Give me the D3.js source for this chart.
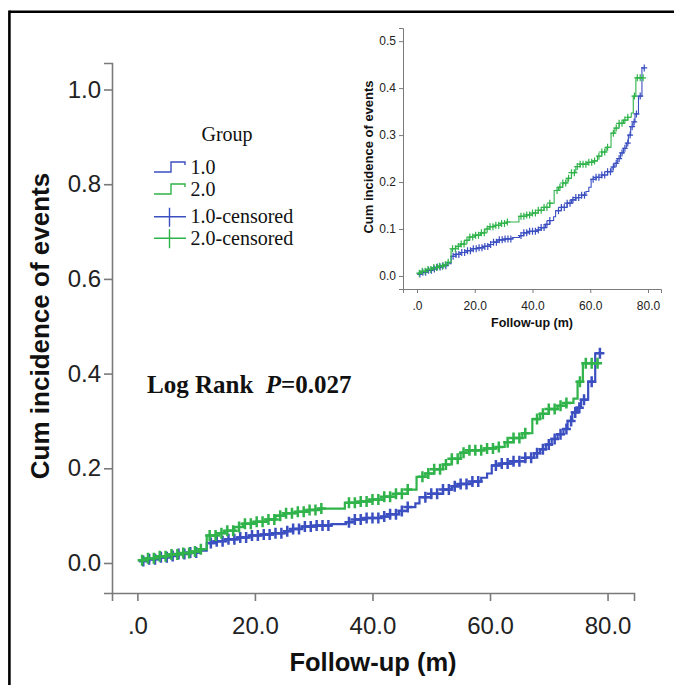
<!DOCTYPE html>
<html>
<head>
<meta charset="utf-8">
<script src="https://cdn.jsdelivr.net/npm/d3@7"></script>
<style>
  body { margin: 0; background: #fff; }
  svg { display: block; }
</style>
</head>
<body>
<script>
const w = 674;
const h = 685;

const blue = "#3b4fc1";
const green = "#2fb34a";
const axisColor = "#7a7a7a";
const tickText = "#222";

// group 1.0 : step times (months) and cumulative incidence after each step
const g1Times = [0.3, 2, 4, 5.5, 7, 9, 10.5, 11.8, 13.5, 15, 17, 19, 21, 23, 25, 26.5, 28, 30.5, 33, 35.5, 37, 39, 41.5, 43, 44.5, 46, 47.3, 48, 50, 52, 53.5, 55, 57, 58.5, 59.5, 60.3, 62, 64, 66, 67.5, 68.5, 69.5, 70.5, 71.5, 72.5, 73.2, 74, 74.8, 75.5, 76.7, 77.9];
const g1Values = [0.004, 0.008, 0.012, 0.015, 0.019, 0.022, 0.026, 0.042, 0.046, 0.050, 0.054, 0.058, 0.060, 0.063, 0.067, 0.072, 0.077, 0.079, 0.082, 0.086, 0.092, 0.095, 0.098, 0.103, 0.110, 0.118, 0.126, 0.139, 0.146, 0.155, 0.162, 0.167, 0.172, 0.180, 0.189, 0.206, 0.210, 0.215, 0.222, 0.232, 0.240, 0.250, 0.262, 0.272, 0.283, 0.300, 0.318, 0.328, 0.345, 0.383, 0.443];
const g1Censor = [1, 2, 3, 4, 5, 6, 7, 8, 9, 10, 12.5, 13.5, 14.5, 15.5, 16.5, 17.5, 18.5, 19.5, 20.5, 21.5, 22.5, 23.5, 24.5, 25.5, 26.5, 27.5, 28.5, 29.5, 30.5, 31.5, 32.5, 36, 37, 38, 39, 40, 41, 42, 43, 44, 45, 46, 49, 50, 51, 52, 53, 54, 55, 56, 57, 58, 61, 62, 63, 64, 65, 66, 67, 68, 69, 70, 71, 72, 73, 73.8, 74.5, 75.2, 76, 77.3, 78.7];
const g1End = 78.7;

// group 2.0
const g2Times = [0.3, 1.5, 3, 5, 7, 9, 10.5, 11.8, 13.5, 15, 16.5, 18, 20, 22, 23.5, 25, 27, 29, 31, 35.3, 38, 40, 42, 44, 46, 47.5, 49, 50.5, 52, 53.5, 55, 56.5, 59, 61, 62.5, 64, 65.5, 67.2, 68.5, 70, 71.5, 73, 74.2, 74.9, 75.8];
const g2Values = [0.006, 0.010, 0.014, 0.018, 0.021, 0.024, 0.029, 0.058, 0.063, 0.068, 0.076, 0.083, 0.087, 0.092, 0.100, 0.105, 0.108, 0.112, 0.115, 0.127, 0.130, 0.134, 0.140, 0.146, 0.155, 0.182, 0.189, 0.198, 0.208, 0.220, 0.233, 0.238, 0.242, 0.245, 0.255, 0.264, 0.274, 0.304, 0.315, 0.325, 0.332, 0.338, 0.347, 0.383, 0.422];
const g2Censor = [0.8, 1.8, 2.8, 3.8, 4.8, 5.8, 6.8, 7.8, 8.8, 9.8, 10.8, 12.3, 13.3, 14.3, 15.3, 16.3, 17.3, 18.3, 19.3, 20.3, 21.3, 22.3, 23.3, 24.3, 25.3, 26.3, 27.3, 28.3, 29.3, 30.3, 31.3, 36, 37, 38, 39, 40, 41, 42, 43, 44, 45, 46, 48.5, 49.5, 50.5, 51.5, 52.5, 53.5, 54.5, 55.5, 56.5, 57.5, 58.5, 59.5, 60.5, 61.5, 63, 64, 65, 66, 68, 69, 70, 71, 72, 73, 75.3, 76.3, 77.3, 78.3];
const g2End = 78.3;

const xTicks = [0, 20, 40, 60, 80];
const xTickLabels = [".0", "20.0", "40.0", "60.0", "80.0"];
const mainYTicks = [0, 0.2, 0.4, 0.6, 0.8, 1.0];
const insetYTicks = [0, 0.1, 0.2, 0.3, 0.4, 0.5];
const legendLabels = ["1.0", "2.0", "1.0-censored", "2.0-censored"];

const groups = [
  { times: g1Times, values: g1Values, censor: g1Censor, end: g1End, color: blue },
  { times: g2Times, values: g2Values, censor: g2Censor, end: g2End, color: green }
];

function valueAt(grp, t) {
  let v = grp.values[0];
  grp.times.forEach((tt, i) => { if (tt <= t) v = grp.values[i]; });
  return v;
}

const svg = d3.select("body")
  .append("svg")
  .attr("width", w)
  .attr("height", h);

// outer frame (only top and left visible)
svg.append("line").attr("x1", 9.4).attr("x2", w).attr("y1", 11.7).attr("y2", 11.7)
  .attr("stroke", "#000").attr("stroke-width", 2.6);
svg.append("line").attr("x1", 9.4).attr("x2", 9.4).attr("y1", 10.4).attr("y2", h)
  .attr("stroke", "#000").attr("stroke-width", 2.6);

function drawPanel(o) {
  const g = svg.append("g");
  const x = d3.scaleLinear().domain(o.xDomain).range(o.xRange);
  const y = d3.scaleLinear().domain(o.yDomain).range(o.yRange);

  const xAxis = g.append("g")
    .attr("transform", "translate(0," + o.yRange[0] + ")")
    .call(d3.axisBottom(x).tickValues(xTicks).tickSizeOuter(0).tickSize(o.tick)
      .tickPadding(o.xPad).tickFormat((d, i) => xTickLabels[i]));
  const yAxis = g.append("g")
    .attr("transform", "translate(" + o.xRange[0] + ",0)")
    .call(d3.axisLeft(y).tickValues(o.yTicks).tickSizeOuter(0).tickSize(o.tick)
      .tickPadding(o.yPad).tickFormat(d3.format(".1f")));

  [xAxis, yAxis].forEach(a => {
    a.select(".domain").attr("stroke", axisColor).attr("stroke-width", o.axisW);
    a.selectAll(".tick line").attr("stroke", axisColor).attr("stroke-width", o.axisW);
    a.selectAll("text")
      .attr("font-family", "Arial, 'Liberation Sans', sans-serif")
      .attr("font-size", o.fs)
      .attr("fill", tickText);
  });

  const line = d3.line()
    .x(d => x(d[0]))
    .y(d => y(d[1]))
    .curve(d3.curveStepAfter);

  groups.forEach(grp => {
    const pts = grp.times.map((t, i) => [t, grp.values[i]]);
    pts.push([grp.end, grp.values[grp.values.length - 1]]);
    g.append("path")
      .datum(pts)
      .attr("fill", "none")
      .attr("stroke", grp.color)
      .attr("stroke-width", o.lineW)
      .attr("d", line);

    g.append("g").selectAll("path")
      .data(grp.censor)
      .enter()
      .append("path")
      .attr("transform", d => "translate(" + x(d) + "," + y(valueAt(grp, d)) + ")")
      .attr("d", "M" + (-o.cw) + ",0H" + o.cw + "M0," + (-o.ch) + "V" + o.ch)
      .attr("stroke", grp.color)
      .attr("stroke-width", o.crossW)
      .attr("fill", "none");
  });

  // axis titles
  g.append("text")
    .attr("x", (o.xRange[0] + o.xRange[1]) / 2 + o.xtOff)
    .attr("y", o.xtY)
    .attr("text-anchor", "middle")
    .attr("font-family", "Arial, 'Liberation Sans', sans-serif")
    .attr("font-weight", "bold")
    .attr("font-size", o.tfs)
    .attr("fill", "#111")
    .text("Follow-up (m)");

  g.append("text")
    .attr("transform", "translate(" + o.ytX + "," + o.ytY + ") rotate(-90)")
    .attr("text-anchor", "middle")
    .attr("font-family", "Arial, 'Liberation Sans', sans-serif")
    .attr("font-weight", "bold")
    .attr("font-size", o.ytfs)
    .attr("fill", "#111")
    .text("Cum incidence of events");
}

// main chart
drawPanel({
  xDomain: [-4.32, 84.5], xRange: [112, 634],
  yDomain: [-0.0634, 1.056], yRange: [593, 63],
  yTicks: mainYTicks, tick: 8, xPad: 16, yPad: 3, fs: 24, axisW: 1.6,
  lineW: 2.2, crossW: 2.5, cw: 4.5, ch: 5.5,
  tfs: 25.5, xtY: 671, xtOff: 0, ytfs: 26, ytX: 49, ytY: 326
});

// inset chart
drawPanel({
  xDomain: [-4.85, 84.5], xRange: [403, 661],
  yDomain: [-0.0277, 0.528], yRange: [289, 28],
  yTicks: insetYTicks, tick: 4, xPad: 8, yPad: 3, fs: 12, axisW: 1,
  lineW: 1.1, crossW: 1.2, cw: 3, ch: 3.5,
  tfs: 12.5, xtY: 327, xtOff: 0, ytfs: 13, ytX: 373, ytY: 157
});

// legend
const legend = svg.append("g").attr("font-family", "'Times New Roman', 'Liberation Serif', serif");
legend.append("text")
  .attr("x", 227).attr("y", 141)
  .attr("text-anchor", "middle")
  .attr("font-size", 20)
  .attr("fill", "#111")
  .text("Group");

const legendY = [167, 189, 216.7, 238.3];
const legendColors = [blue, green, blue, green];

legend.selectAll("g.item")
  .data(legendLabels)
  .enter()
  .append("g")
  .attr("class", "item")
  .attr("transform", (d, i) => "translate(0," + legendY[i] + ")")
  .each(function (d, i) {
    const it = d3.select(this);
    if (i < 2) {
      it.append("path")
        .attr("d", "M154,5H171V-5H185V-2")
        .attr("fill", "none")
        .attr("stroke", legendColors[i])
        .attr("stroke-width", 1.4);
    } else {
      it.append("path")
        .attr("d", "M154,0H186M169.5,-9V10")
        .attr("fill", "none")
        .attr("stroke", legendColors[i])
        .attr("stroke-width", 1.4);
    }
    it.append("text")
      .attr("x", 190.5)
      .attr("y", 6.5)
      .attr("font-size", 20)
      .attr("fill", "#111")
      .text(d);
  });

// test annotation
const ann = svg.append("text")
  .attr("x", 147).attr("y", 393)
  .attr("font-family", "'Times New Roman', 'Liberation Serif', serif")
  .attr("font-weight", "bold")
  .attr("font-size", 25)
  .attr("fill", "#111");
ann.append("tspan").text("Log Rank\u00a0\u00a0");
ann.append("tspan").attr("font-style", "italic").text("P");
ann.append("tspan").text("=0.027");
</script>
</body>
</html>
